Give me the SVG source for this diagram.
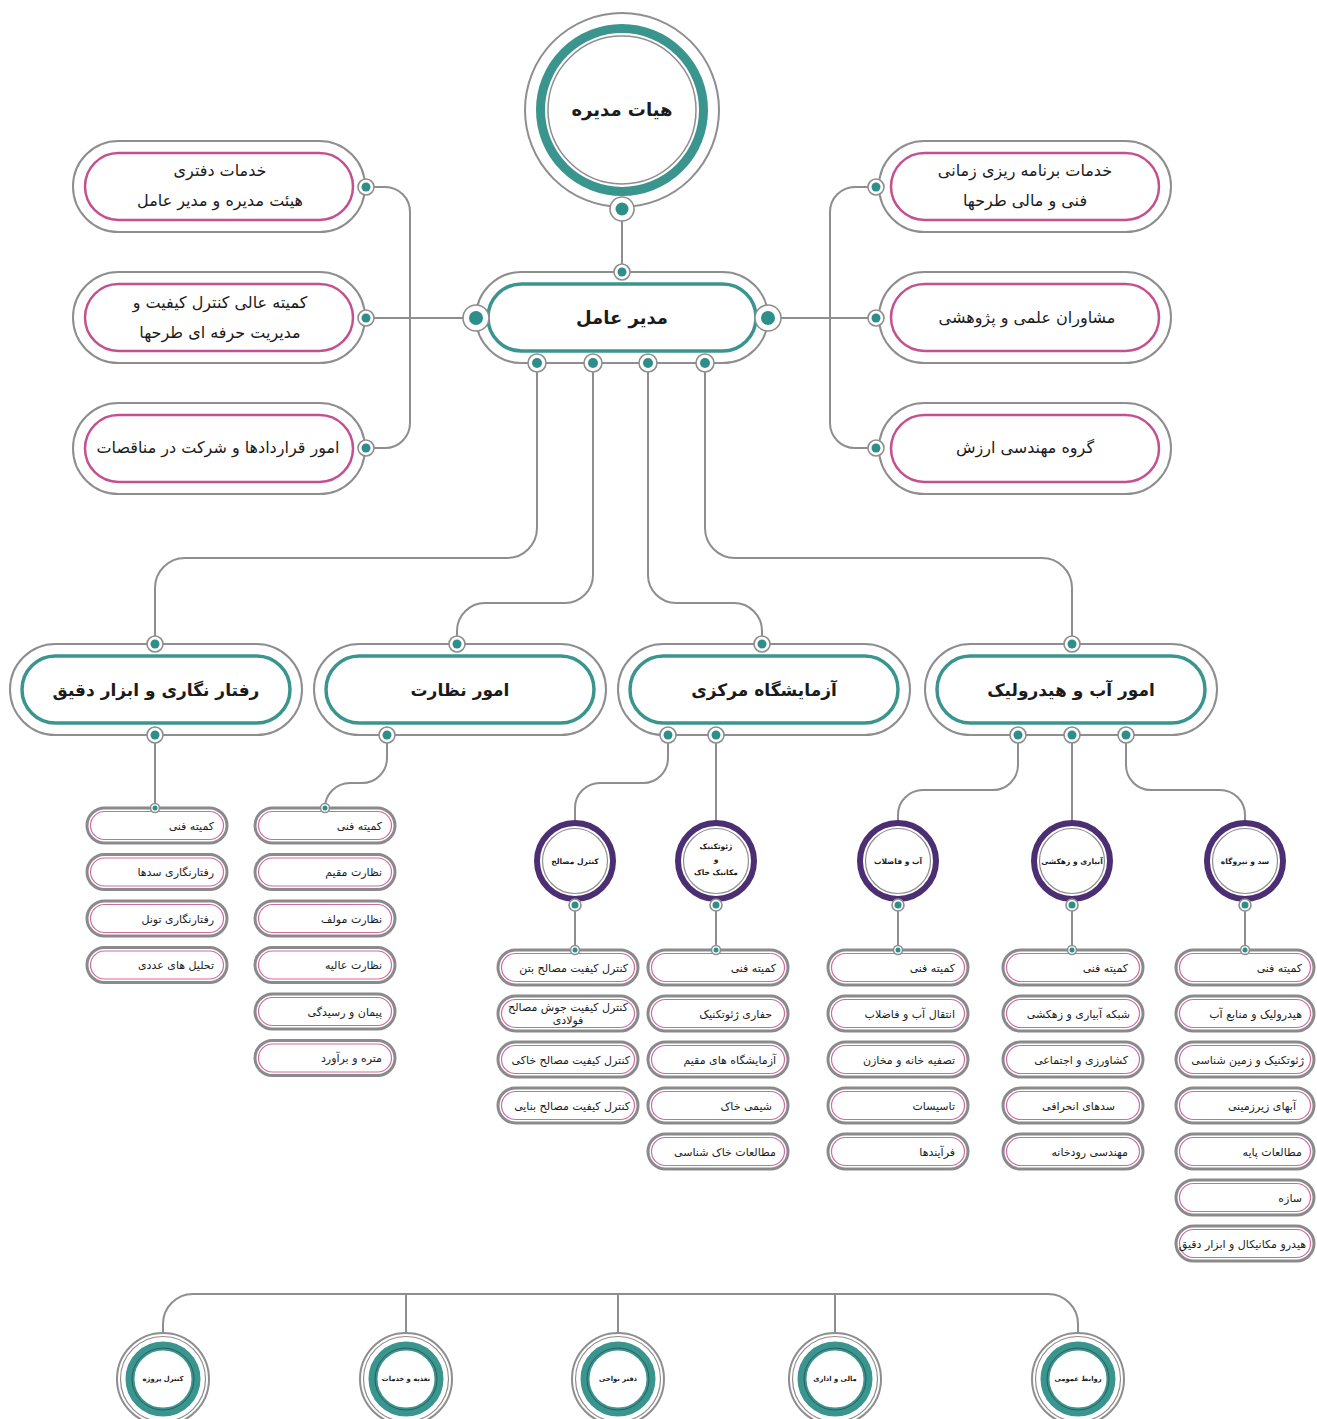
<svg xmlns="http://www.w3.org/2000/svg" width="1317" height="1419" viewBox="0 0 1317 1419">
<style>
text{font-family:"DejaVu Sans",sans-serif;fill:#1b1b1b;text-anchor:middle}
.b{font-weight:bold}
.bt{font-size:16px}
.dt{font-size:17px;font-weight:bold}
.conn{fill:none;stroke:#8e8e8e;stroke-width:2}
.og{fill:#fff;stroke:#8e8e8e;stroke-width:2}
.teal{fill:#fff;stroke:#3a958f;stroke-width:3.5}
.pink{fill:#fff;stroke:#c4508f;stroke-width:2.5}
.pr{fill:#fff;stroke:#8e8e8e;stroke-width:1.6}
.pd{fill:#2e8f8a}
.sb{fill:#fff;stroke:#8a8a8a;stroke-width:3}
.sp{fill:none;stroke:#cf6aa3;stroke-width:1.2}
.st{font-size:11px;text-anchor:end}
.pc{fill:#fff;stroke:#4b2f72;stroke-width:6}
.pi{fill:none;stroke:#8e8e8e;stroke-width:1.2}
.pt{font-size:7.5px;font-weight:bold}
.ct{font-size:6.8px;font-weight:bold}
</style>
<rect width="1317" height="1419" fill="#fff"/>
<g id="connectors">
<path class="conn" d="M622,209 V272"/>
<path class="conn" d="M366,187 H385 A25,25 0 0 1 410,212 V423 A25,25 0 0 1 385,448 H366"/>
<path class="conn" d="M366,318 H476"/>
<path class="conn" d="M876,187 H855 A25,25 0 0 0 830,212 V423 A25,25 0 0 0 855,448 H876"/>
<path class="conn" d="M768,318 H876"/>
<path class="conn" d="M537,363 V528 A30,30 0 0 1 507,558 H185 A30,30 0 0 0 155,588 V644"/>
<path class="conn" d="M593,363 V575 A28,28 0 0 1 565,603 H485 A28,28 0 0 0 457,631 V644"/>
<path class="conn" d="M648,363 V575 A28,28 0 0 0 676,603 H734 A28,28 0 0 1 762,631 V644"/>
<path class="conn" d="M705,363 V528 A30,30 0 0 0 735,558 H1042 A30,30 0 0 1 1072,588 V644"/>
<path class="conn" d="M155,735 V808"/>
<path class="conn" d="M387,735 V758 A25,25 0 0 1 362,783 H350 A25,25 0 0 0 325,808"/>
<path class="conn" d="M668,735 V758 A25,25 0 0 1 643,783 H600 A25,25 0 0 0 575,808 V822"/>
<path class="conn" d="M716,735 V822"/>
<path class="conn" d="M1018,735 V765 A25,25 0 0 1 993,790 H923 A25,25 0 0 0 898,815 V822"/>
<path class="conn" d="M1072,735 V822"/>
<path class="conn" d="M1126,735 V765 A25,25 0 0 0 1151,790 H1220 A25,25 0 0 1 1245,815 V822"/>
<path class="conn" d="M575,861 V950 M716,861 V950 M898,861 V950 M1072,861 V950 M1245,861 V950"/>
<path class="conn" d="M163,1334 V1324 A30,30 0 0 1 193,1294 H1048 A30,30 0 0 1 1078,1324 V1334 M406,1294 V1334 M618,1294 V1334 M835,1294 V1334"/>
</g>
<g id="board">
<circle cx="622" cy="110" r="97" class="og"/>
<circle cx="622" cy="110" r="81.5" fill="none" stroke="#3a958f" stroke-width="9"/>
<circle cx="622" cy="110" r="74" fill="none" stroke="#8e8e8e" stroke-width="1.5"/>
<text x="622" y="116" class="b" font-size="18">هیات مدیره</text>
<circle cx="622" cy="209" r="12" class="pr"/><circle cx="622" cy="209" r="6.5" class="pd"/>
</g>
<g id="manager">
<rect x="476" y="272" width="292" height="91" rx="45.5" class="og"/>
<rect x="488" y="284" width="268" height="67" rx="33.5" class="teal"/>
<text x="622" y="324" class="b" font-size="18">مدیر عامل</text>
<circle cx="622" cy="272" r="8" class="pr"/><circle cx="622" cy="272" r="4.5" class="pd"/>
<circle cx="476" cy="318" r="13" class="pr"/><circle cx="476" cy="318" r="7" class="pd"/>
<circle cx="768" cy="318" r="13" class="pr"/><circle cx="768" cy="318" r="7" class="pd"/>
<circle cx="537" cy="363" r="9" class="pr"/><circle cx="537" cy="363" r="5" class="pd"/>
<circle cx="593" cy="363" r="9" class="pr"/><circle cx="593" cy="363" r="5" class="pd"/>
<circle cx="648" cy="363" r="9" class="pr"/><circle cx="648" cy="363" r="5" class="pd"/>
<circle cx="705" cy="363" r="9" class="pr"/><circle cx="705" cy="363" r="5" class="pd"/>
</g>
<g id="office-services">
<rect x="73" y="141" width="292" height="91" rx="45.5" class="og"/>
<rect x="85" y="153" width="268" height="67" rx="33.5" class="pink"/>
<text x="220" y="176" class="bt">خدمات دفتری</text>
<text x="220" y="206" class="bt">هیئت مدیره و مدیر عامل</text>
<circle cx="366" cy="187" r="8" class="pr"/><circle cx="366" cy="187" r="4.5" class="pd"/>
</g>
<g id="quality-committee">
<rect x="73" y="272" width="292" height="91" rx="45.5" class="og"/>
<rect x="85" y="284" width="268" height="67" rx="33.5" class="pink"/>
<text x="220" y="308" class="bt">کمیته عالی کنترل کیفیت و</text>
<text x="220" y="338" class="bt">مدیریت حرفه ای طرحها</text>
<circle cx="366" cy="318" r="8" class="pr"/><circle cx="366" cy="318" r="4.5" class="pd"/>
</g>
<g id="contracts">
<rect x="73" y="403" width="292" height="91" rx="45.5" class="og"/>
<rect x="85" y="415" width="268" height="67" rx="33.5" class="pink"/>
<text x="218" y="453" class="bt">امور قراردادها و شرکت در مناقصات</text>
<circle cx="366" cy="448" r="8" class="pr"/><circle cx="366" cy="448" r="4.5" class="pd"/>
</g>
<g id="scheduling">
<rect x="879" y="141" width="292" height="91" rx="45.5" class="og"/>
<rect x="891" y="153" width="268" height="67" rx="33.5" class="pink"/>
<text x="1025" y="176" class="bt">خدمات برنامه ریزی زمانی</text>
<text x="1025" y="206" class="bt">فنی و مالی طرحها</text>
<circle cx="876" cy="187" r="8" class="pr"/><circle cx="876" cy="187" r="4.5" class="pd"/>
</g>
<g id="advisors">
<rect x="879" y="272" width="292" height="91" rx="45.5" class="og"/>
<rect x="891" y="284" width="268" height="67" rx="33.5" class="pink"/>
<text x="1027" y="323" class="bt">مشاوران علمی و پژوهشی</text>
<circle cx="876" cy="318" r="8" class="pr"/><circle cx="876" cy="318" r="4.5" class="pd"/>
</g>
<g id="value-eng">
<rect x="879" y="403" width="292" height="91" rx="45.5" class="og"/>
<rect x="891" y="415" width="268" height="67" rx="33.5" class="pink"/>
<text x="1025" y="453" class="bt">گروه مهندسی ارزش</text>
<circle cx="876" cy="448" r="8" class="pr"/><circle cx="876" cy="448" r="4.5" class="pd"/>
</g>
<g id="dept-monitoring">
<rect x="10" y="644" width="292" height="91" rx="45.5" class="og"/>
<rect x="22" y="656" width="268" height="67" rx="33.5" class="teal"/>
<text x="156" y="696" class="dt">رفتار نگاری  و ابزار دقیق</text>
<circle cx="155" cy="644" r="8" class="pr"/><circle cx="155" cy="644" r="4.5" class="pd"/>
<circle cx="155" cy="735" r="8" class="pr"/><circle cx="155" cy="735" r="4.5" class="pd"/>
</g>
<g id="dept-supervision">
<rect x="314" y="644" width="292" height="91" rx="45.5" class="og"/>
<rect x="326" y="656" width="268" height="67" rx="33.5" class="teal"/>
<text x="460" y="696" class="dt">امور نظارت</text>
<circle cx="457" cy="644" r="8" class="pr"/><circle cx="457" cy="644" r="4.5" class="pd"/>
<circle cx="387" cy="735" r="8" class="pr"/><circle cx="387" cy="735" r="4.5" class="pd"/>
</g>
<g id="dept-lab">
<rect x="618" y="644" width="292" height="91" rx="45.5" class="og"/>
<rect x="630" y="656" width="268" height="67" rx="33.5" class="teal"/>
<text x="764" y="696" class="dt">آزمایشگاه مرکزی</text>
<circle cx="762" cy="644" r="8" class="pr"/><circle cx="762" cy="644" r="4.5" class="pd"/>
<circle cx="668" cy="735" r="8" class="pr"/><circle cx="668" cy="735" r="4.5" class="pd"/>
<circle cx="716" cy="735" r="8" class="pr"/><circle cx="716" cy="735" r="4.5" class="pd"/>
</g>
<g id="dept-water">
<rect x="925" y="644" width="292" height="91" rx="45.5" class="og"/>
<rect x="937" y="656" width="268" height="67" rx="33.5" class="teal"/>
<text x="1071" y="696" class="dt">امور آب و هیدرولیک</text>
<circle cx="1072" cy="644" r="8" class="pr"/><circle cx="1072" cy="644" r="4.5" class="pd"/>
<circle cx="1018" cy="735" r="8" class="pr"/><circle cx="1018" cy="735" r="4.5" class="pd"/>
<circle cx="1072" cy="735" r="8" class="pr"/><circle cx="1072" cy="735" r="4.5" class="pd"/>
<circle cx="1126" cy="735" r="8" class="pr"/><circle cx="1126" cy="735" r="4.5" class="pd"/>
</g>
<g id="sub-materials">
<circle cx="575" cy="861" r="38" class="pc"/><circle cx="575" cy="861" r="32.5" class="pi"/>
<text x="575" y="864" class="pt">کنترل مصالح</text>
<circle cx="575" cy="905" r="6" class="pr"/><circle cx="575" cy="905" r="3.5" class="pd"/>
</g>
<g id="sub-geotech">
<circle cx="716" cy="861" r="38" class="pc"/><circle cx="716" cy="861" r="32.5" class="pi"/>
<text x="716" y="849" class="pt">ژئوتکنیک</text>
<text x="716" y="862" class="pt">و</text>
<text x="716" y="875" class="pt">مکانیک خاک</text>
<circle cx="716" cy="905" r="6" class="pr"/><circle cx="716" cy="905" r="3.5" class="pd"/>
</g>
<g id="sub-wastewater">
<circle cx="898" cy="861" r="38" class="pc"/><circle cx="898" cy="861" r="32.5" class="pi"/>
<text x="898" y="864" class="pt">آب و فاضلاب</text>
<circle cx="898" cy="905" r="6" class="pr"/><circle cx="898" cy="905" r="3.5" class="pd"/>
</g>
<g id="sub-irrigation">
<circle cx="1072" cy="861" r="38" class="pc"/><circle cx="1072" cy="861" r="32.5" class="pi"/>
<text x="1072" y="864" class="pt">آبیاری و زهکشی</text>
<circle cx="1072" cy="905" r="6" class="pr"/><circle cx="1072" cy="905" r="3.5" class="pd"/>
</g>
<g id="sub-dam">
<circle cx="1245" cy="861" r="38" class="pc"/><circle cx="1245" cy="861" r="32.5" class="pi"/>
<text x="1245" y="864" class="pt">سد و نیروگاه</text>
<circle cx="1245" cy="905" r="6" class="pr"/><circle cx="1245" cy="905" r="3.5" class="pd"/>
</g>
<g id="list-monitoring">
<rect x="87" y="808" width="140" height="35" rx="17.5" class="sb"/><rect x="90.5" y="811.5" width="133" height="28" rx="14" class="sp"/><text x="214" y="829.5" class="st">کمیته فنی</text>
<rect x="87" y="854.5" width="140" height="35" rx="17.5" class="sb"/><rect x="90.5" y="858" width="133" height="28" rx="14" class="sp"/><text x="214" y="876" class="st">رفتارنگاری سدها</text>
<rect x="87" y="901" width="140" height="35" rx="17.5" class="sb"/><rect x="90.5" y="904.5" width="133" height="28" rx="14" class="sp"/><text x="214" y="922.5" class="st">رفتارنگاری تونل</text>
<rect x="87" y="947.5" width="140" height="35" rx="17.5" class="sb"/><rect x="90.5" y="951" width="133" height="28" rx="14" class="sp"/><text x="214" y="969" class="st">تحلیل های عددی</text>
<circle cx="155" cy="808" r="4.5" class="pr"/><circle cx="155" cy="808" r="2.5" class="pd"/>
</g>
<g id="list-supervision">
<rect x="255" y="808" width="140" height="35" rx="17.5" class="sb"/><rect x="258.5" y="811.5" width="133" height="28" rx="14" class="sp"/><text x="382" y="829.5" class="st">کمیته فنی</text>
<rect x="255" y="854.5" width="140" height="35" rx="17.5" class="sb"/><rect x="258.5" y="858" width="133" height="28" rx="14" class="sp"/><text x="382" y="876" class="st">نظارت مقیم</text>
<rect x="255" y="901" width="140" height="35" rx="17.5" class="sb"/><rect x="258.5" y="904.5" width="133" height="28" rx="14" class="sp"/><text x="382" y="922.5" class="st">نظارت مولف</text>
<rect x="255" y="947.5" width="140" height="35" rx="17.5" class="sb"/><rect x="258.5" y="951" width="133" height="28" rx="14" class="sp"/><text x="382" y="969" class="st">نظارت عالیه</text>
<rect x="255" y="994" width="140" height="35" rx="17.5" class="sb"/><rect x="258.5" y="997.5" width="133" height="28" rx="14" class="sp"/><text x="382" y="1015.5" class="st">پیمان و رسیدگی</text>
<rect x="255" y="1040.5" width="140" height="35" rx="17.5" class="sb"/><rect x="258.5" y="1044" width="133" height="28" rx="14" class="sp"/><text x="382" y="1062" class="st">متره و برآورد</text>
<circle cx="325" cy="808" r="4.5" class="pr"/><circle cx="325" cy="808" r="2.5" class="pd"/>
</g>
<g id="list-materials">
<rect x="498" y="950" width="140" height="35" rx="17.5" class="sb"/><rect x="501.5" y="953.5" width="133" height="28" rx="14" class="sp"/><text x="628" y="971.5" class="st">کنترل کیفیت مصالح بتن</text>
<rect x="498" y="996" width="140" height="35" rx="17.5" class="sb"/><rect x="501.5" y="999.5" width="133" height="28" rx="14" class="sp"/><text x="568" y="1011" font-size="11">کنترل کیفیت جوش مصالح</text><text x="568" y="1024" font-size="11">فولادی</text>
<rect x="498" y="1042" width="140" height="35" rx="17.5" class="sb"/><rect x="501.5" y="1045.5" width="133" height="28" rx="14" class="sp"/><text x="630" y="1063.5" class="st">کنترل کیفیت مصالح خاکی</text>
<rect x="498" y="1088" width="140" height="35" rx="17.5" class="sb"/><rect x="501.5" y="1091.5" width="133" height="28" rx="14" class="sp"/><text x="630" y="1109.5" class="st">کنترل کیفیت مصالح بنایی</text>
<circle cx="575" cy="950" r="4.5" class="pr"/><circle cx="575" cy="950" r="2.5" class="pd"/>
</g>
<g id="list-geotech">
<rect x="648" y="950" width="140" height="35" rx="17.5" class="sb"/><rect x="651.5" y="953.5" width="133" height="28" rx="14" class="sp"/><text x="776" y="971.5" class="st">کمیته فنی</text>
<rect x="648" y="996" width="140" height="35" rx="17.5" class="sb"/><rect x="651.5" y="999.5" width="133" height="28" rx="14" class="sp"/><text x="772" y="1017.5" class="st">حفاری ژئوتکنیک</text>
<rect x="648" y="1042" width="140" height="35" rx="17.5" class="sb"/><rect x="651.5" y="1045.5" width="133" height="28" rx="14" class="sp"/><text x="776" y="1063.5" class="st">آزمایشگاه های مقیم</text>
<rect x="648" y="1088" width="140" height="35" rx="17.5" class="sb"/><rect x="651.5" y="1091.5" width="133" height="28" rx="14" class="sp"/><text x="772" y="1109.5" class="st">شیمی خاک</text>
<rect x="648" y="1134" width="140" height="35" rx="17.5" class="sb"/><rect x="651.5" y="1137.5" width="133" height="28" rx="14" class="sp"/><text x="776" y="1155.5" class="st">مطالعات خاک شناسی</text>
<circle cx="716" cy="950" r="4.5" class="pr"/><circle cx="716" cy="950" r="2.5" class="pd"/>
</g>
<g id="list-wastewater">
<rect x="828" y="950" width="140" height="35" rx="17.5" class="sb"/><rect x="831.5" y="953.5" width="133" height="28" rx="14" class="sp"/><text x="955" y="971.5" class="st">کمیته فنی</text>
<rect x="828" y="996" width="140" height="35" rx="17.5" class="sb"/><rect x="831.5" y="999.5" width="133" height="28" rx="14" class="sp"/><text x="955" y="1017.5" class="st">انتقال آب و فاضلاب</text>
<rect x="828" y="1042" width="140" height="35" rx="17.5" class="sb"/><rect x="831.5" y="1045.5" width="133" height="28" rx="14" class="sp"/><text x="955" y="1063.5" class="st">تصفیه خانه و مخازن</text>
<rect x="828" y="1088" width="140" height="35" rx="17.5" class="sb"/><rect x="831.5" y="1091.5" width="133" height="28" rx="14" class="sp"/><text x="955" y="1109.5" class="st">تاسیسات</text>
<rect x="828" y="1134" width="140" height="35" rx="17.5" class="sb"/><rect x="831.5" y="1137.5" width="133" height="28" rx="14" class="sp"/><text x="955" y="1155.5" class="st">فرآیندها</text>
<circle cx="898" cy="950" r="4.5" class="pr"/><circle cx="898" cy="950" r="2.5" class="pd"/>
</g>
<g id="list-irrigation">
<rect x="1003" y="950" width="140" height="35" rx="17.5" class="sb"/><rect x="1006.5" y="953.5" width="133" height="28" rx="14" class="sp"/><text x="1128" y="971.5" class="st">کمیته فنی</text>
<rect x="1003" y="996" width="140" height="35" rx="17.5" class="sb"/><rect x="1006.5" y="999.5" width="133" height="28" rx="14" class="sp"/><text x="1130" y="1017.5" class="st">شبکه آبیاری و زهکشی</text>
<rect x="1003" y="1042" width="140" height="35" rx="17.5" class="sb"/><rect x="1006.5" y="1045.5" width="133" height="28" rx="14" class="sp"/><text x="1128" y="1063.5" class="st">کشاورزی و اجتماعی</text>
<rect x="1003" y="1088" width="140" height="35" rx="17.5" class="sb"/><rect x="1006.5" y="1091.5" width="133" height="28" rx="14" class="sp"/><text x="1115" y="1109.5" class="st">سدهای انحرافی</text>
<rect x="1003" y="1134" width="140" height="35" rx="17.5" class="sb"/><rect x="1006.5" y="1137.5" width="133" height="28" rx="14" class="sp"/><text x="1128" y="1155.5" class="st">مهندسی رودخانه</text>
<circle cx="1072" cy="950" r="4.5" class="pr"/><circle cx="1072" cy="950" r="2.5" class="pd"/>
</g>
<g id="list-dam">
<rect x="1176" y="950" width="138" height="35" rx="17.5" class="sb"/><rect x="1179.5" y="953.5" width="131" height="28" rx="14" class="sp"/><text x="1302" y="971.5" class="st">کمیته فنی</text>
<rect x="1176" y="996" width="138" height="35" rx="17.5" class="sb"/><rect x="1179.5" y="999.5" width="131" height="28" rx="14" class="sp"/><text x="1302" y="1017.5" class="st">هیدرولیک و منابع آب</text>
<rect x="1176" y="1042" width="138" height="35" rx="17.5" class="sb"/><rect x="1179.5" y="1045.5" width="131" height="28" rx="14" class="sp"/><text x="1304" y="1063.5" class="st">ژئوتکنیک و زمین شناسی</text>
<rect x="1176" y="1088" width="138" height="35" rx="17.5" class="sb"/><rect x="1179.5" y="1091.5" width="131" height="28" rx="14" class="sp"/><text x="1296" y="1109.5" class="st">آبهای زیرزمینی</text>
<rect x="1176" y="1134" width="138" height="35" rx="17.5" class="sb"/><rect x="1179.5" y="1137.5" width="131" height="28" rx="14" class="sp"/><text x="1302" y="1155.5" class="st">مطالعات پایه</text>
<rect x="1176" y="1180" width="138" height="35" rx="17.5" class="sb"/><rect x="1179.5" y="1183.5" width="131" height="28" rx="14" class="sp"/><text x="1302" y="1201.5" class="st">سازه</text>
<rect x="1176" y="1226" width="138" height="35" rx="17.5" class="sb"/><rect x="1179.5" y="1229.5" width="131" height="28" rx="14" class="sp"/><text x="1306" y="1247.5" class="st">هیدرو مکانیکال و ابزار دقیق</text>
<circle cx="1245" cy="950" r="4.5" class="pr"/><circle cx="1245" cy="950" r="2.5" class="pd"/>
</g>
<g id="project-control">
<circle cx="163" cy="1379" r="46" class="og"/><circle cx="163" cy="1379" r="42.5" fill="none" stroke="#8e8e8e" stroke-width="1.2"/>
<circle cx="163" cy="1379" r="33" fill="none" stroke="#3a958f" stroke-width="9"/><circle cx="163" cy="1379" r="31" fill="none" stroke="#2b5f5c" stroke-width="1"/>
<text x="163" y="1381" class="ct">کنترل پروژه</text>
</g>
<g id="catering">
<circle cx="406" cy="1379" r="46" class="og"/><circle cx="406" cy="1379" r="42.5" fill="none" stroke="#8e8e8e" stroke-width="1.2"/>
<circle cx="406" cy="1379" r="33" fill="none" stroke="#3a958f" stroke-width="9"/><circle cx="406" cy="1379" r="31" fill="none" stroke="#2b5f5c" stroke-width="1"/>
<text x="406" y="1381" class="ct">تغذیه و خدمات</text>
</g>
<g id="regional-office">
<circle cx="618" cy="1379" r="46" class="og"/><circle cx="618" cy="1379" r="42.5" fill="none" stroke="#8e8e8e" stroke-width="1.2"/>
<circle cx="618" cy="1379" r="33" fill="none" stroke="#3a958f" stroke-width="9"/><circle cx="618" cy="1379" r="31" fill="none" stroke="#2b5f5c" stroke-width="1"/>
<text x="618" y="1381" class="ct">دفتر نواحی</text>
</g>
<g id="finance-admin">
<circle cx="835" cy="1379" r="46" class="og"/><circle cx="835" cy="1379" r="42.5" fill="none" stroke="#8e8e8e" stroke-width="1.2"/>
<circle cx="835" cy="1379" r="33" fill="none" stroke="#3a958f" stroke-width="9"/><circle cx="835" cy="1379" r="31" fill="none" stroke="#2b5f5c" stroke-width="1"/>
<text x="835" y="1381" class="ct">مالی و اداری</text>
</g>
<g id="public-relations">
<circle cx="1078" cy="1379" r="46" class="og"/><circle cx="1078" cy="1379" r="42.5" fill="none" stroke="#8e8e8e" stroke-width="1.2"/>
<circle cx="1078" cy="1379" r="33" fill="none" stroke="#3a958f" stroke-width="9"/><circle cx="1078" cy="1379" r="31" fill="none" stroke="#2b5f5c" stroke-width="1"/>
<text x="1078" y="1381" class="ct">روابط عمومی</text>
</g>
</svg>
